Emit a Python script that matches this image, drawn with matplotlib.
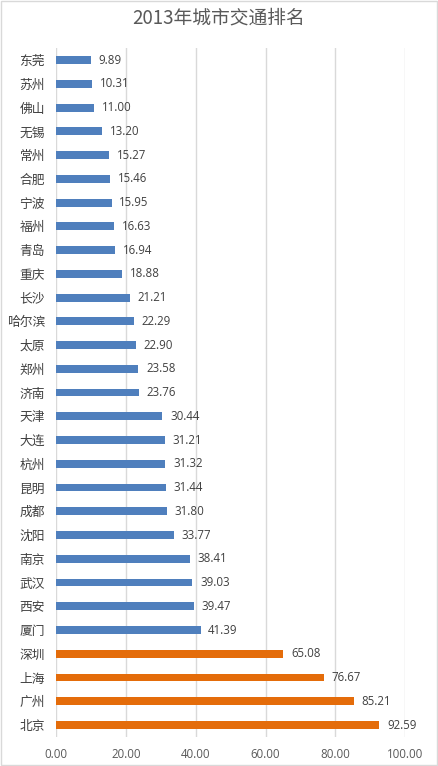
import matplotlib
matplotlib.use("Agg")
import matplotlib.pyplot as plt
from matplotlib.patches import Rectangle

plt.rcParams['font.family'] = ['Noto Sans CJK SC', 'DejaVu Sans']

cities = ["东莞", "苏州", "佛山", "无锡", "常州", "合肥", "宁波", "福州", "青岛", "重庆",
          "长沙", "哈尔滨", "太原", "郑州", "济南", "天津", "大连", "杭州", "昆明", "成都",
          "沈阳", "南京", "武汉", "西安", "厦门", "深圳", "上海", "广州", "北京"]
values = [9.89, 10.31, 11.00, 13.20, 15.27, 15.46, 15.95, 16.63, 16.94, 18.88,
          21.21, 22.29, 22.90, 23.58, 23.76, 30.44, 31.21, 31.32, 31.44, 31.80,
          33.77, 38.41, 39.03, 39.47, 41.39, 65.08, 76.67, 85.21, 92.59]
groups = ["blue"] * 25 + ["orange"] * 4
xticks = [0, 20, 40, 60, 80, 100]

color_map = {"blue": "#4F7FBD", "orange": "#E46C0A"}

fig = plt.figure(figsize=(4.38, 7.66), dpi=100)
fig.patches.append(Rectangle((0.002, 0.001), 0.996, 0.998, transform=fig.transFigure,
                             fill=False, edgecolor="#D9D9D9", linewidth=1))
ax = fig.add_axes([0.128, 0.038, 0.797, 0.899])

n = len(cities)
ypos = list(range(n))
ax.barh(ypos, values, height=0.33, color=[color_map[g] for g in groups], zorder=3)
for y, v in zip(ypos, values):
    ax.text(v + 2.2, y, f"{v:.2f}", va="center", ha="left", fontsize=8.3, color="#404040",
            family=['Open Sans', 'DejaVu Sans'])

ax.set_ylim(n - 0.5, -0.5)
ax.set_xlim(0, 100)
ax.set_yticks(ypos)
ax.set_yticklabels(cities, fontsize=9.2, color="#404040")
ax.tick_params(axis='both', length=0)
ax.tick_params(axis='y', pad=8)
ax.set_xticks(xticks)
ax.set_xticklabels([f"{t:.2f}" for t in xticks], fontsize=8.3, color="#595959",
                   family=['Open Sans', 'DejaVu Sans'])
ax.tick_params(axis='x', pad=8)
for s in ax.spines.values():
    s.set_visible(False)
ax.grid(axis='x', color="#D9D9D9", linewidth=1, zorder=0)
ax.set_axisbelow(True)

fig.text(0.5, 0.977, "2013年城市交通排名", ha="center", va="center", fontsize=13.5, color="#595959")

fig.savefig("out.png", dpi=100)
